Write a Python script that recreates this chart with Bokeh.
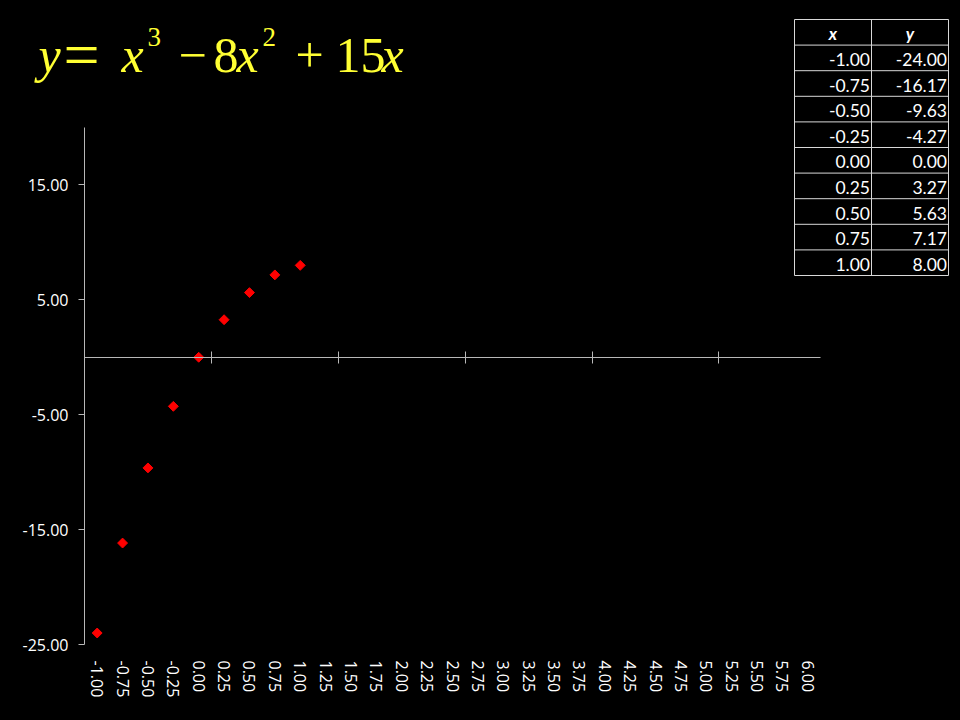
import numpy as np
from bokeh.plotting import figure
from bokeh.models import (Range1d, LinearAxis, FixedTicker, NumeralTickFormatter,
                          Label, ColumnDataSource, GlobalInlineStyleSheet)
from bokeh.core.properties import value
from bokeh.embed import file_html
from bokeh.resources import INLINE

# ---------------- data ----------------
categories = ["-1.00", "-0.75", "-0.50", "-0.25", "0.00", "0.25", "0.50", "0.75",
              "1.00", "1.25", "1.50", "1.75", "2.00", "2.25", "2.50", "2.75",
              "3.00", "3.25", "3.50", "3.75", "4.00", "4.25", "4.50", "4.75",
              "5.00", "5.25", "5.50", "5.75", "6.00"]
x_values = [-1.00, -0.75, -0.50, -0.25, 0.00, 0.25, 0.50, 0.75, 1.00]
y_values = [-24.00, -16.17, -9.63, -4.27, 0.00, 3.27, 5.63, 7.17, 8.00]
y_ticks = [-25, -15, -5, 5, 15]
y_min, y_max = -25, 20
tick_every = 5          # category-axis tick marks every 5 categories
table_header = ["x", "y"]

# ---------------- geometry (page pixel coords) ----------------
W, H = 952, 712
AX_L, AX_R, AX_T, AX_B = 84, 820, 127, 644   # chart axes extent
n_cat = len(categories)
cat_px = (AX_R - AX_L) / n_cat
y_px = (AX_B - AX_T) / (y_max - y_min)

BG = "#000000"
AX = "#b8b8b8"
TXT = "#ffffff"
YEL = "#ffff33"
FONT = "Lato"
AXFONT = "Open Sans"

p = figure(width=W, height=H,
           x_range=Range1d(-0.5 - AX_L / cat_px, -0.5 + (W - AX_L) / cat_px),
           y_range=Range1d(y_min - (H - AX_B) / y_px, y_min + AX_B / y_px),
           x_axis_type=None, y_axis_type=None,
           min_border_left=0, min_border_right=0,
           min_border_top=0, min_border_bottom=0,
           toolbar_location=None, output_backend="svg")
p.background_fill_color = BG
p.border_fill_color = BG
p.outline_line_color = None
p.grid.visible = False
p.stylesheets = [GlobalInlineStyleSheet(css="html, body { background: #000000; }")]

# pixel-space ranges for the title and table
p.extra_x_ranges = {"px": Range1d(0, W)}
p.extra_y_ranges = {"px": Range1d(H, 0)}

# ---------------- axes ----------------
yaxis = LinearAxis(ticker=FixedTicker(ticks=y_ticks),
                   formatter=NumeralTickFormatter(format="0.00"),
                   bounds=(y_min, y_max), fixed_location=-0.5)
yaxis.axis_line_color = AX
yaxis.major_tick_line_color = AX
yaxis.major_tick_in = 0
yaxis.major_tick_out = 6
yaxis.minor_tick_line_color = None
yaxis.major_label_standoff = 10
yaxis.major_label_text_color = TXT
yaxis.major_label_text_font = AXFONT
yaxis.major_label_text_font_size = "16px"
p.add_layout(yaxis, "left")

idx = list(range(n_cat))
xlab = LinearAxis(ticker=FixedTicker(ticks=idx), fixed_location=y_min,
                  major_label_overrides={i: c for i, c in zip(idx, categories)})
xlab.axis_line_color = None
xlab.major_tick_line_color = None
xlab.minor_tick_line_color = None
xlab.major_tick_in = 0
xlab.major_tick_out = 0
xlab.major_label_orientation = "vertical"
xlab.major_label_standoff = 16
xlab.major_label_text_color = TXT
xlab.major_label_text_font = AXFONT
xlab.major_label_text_font_size = "16px"
p.add_layout(xlab, "below")

bounds_ticks = [i - 0.5 for i in range(tick_every, n_cat, tick_every)]
xcross = LinearAxis(ticker=FixedTicker(ticks=bounds_ticks), fixed_location=0,
                    bounds=(-0.5, n_cat - 0.5))
xcross.axis_line_color = AX
xcross.major_tick_line_color = AX
xcross.minor_tick_line_color = None
xcross.major_tick_in = 6
xcross.major_tick_out = 6
xcross.major_label_text_font_size = "0px"
xcross.major_label_text_color = None
p.add_layout(xcross, "below")

# ---------------- points ----------------
pos = [categories.index(f"{v:.2f}") for v in x_values]
src = ColumnDataSource(dict(x=pos, y=y_values))
p.scatter("x", "y", source=src, marker="square", angle=np.pi / 4, size=7,
          fill_color="#ff0000", line_color="#ff0000")

# ---------------- title (formula) ----------------
# (text, left x, baseline y, font size, style)
pieces = [("y", 38, 72, 50, "italic"), ("=", 63, 76, 64, "normal"),
          ("x", 121, 72, 50, "italic"), ("3", 147, 46, 27, "normal"),
          ("\u2212", 178, 72, 50, "normal"), ("8", 213, 72, 50, "normal"),
          ("x", 236, 72, 50, "italic"), ("2", 262, 46, 27, "normal"),
          ("+", 295, 72, 50, "normal"), ("15", 335, 72, 50, "normal"),
          ("x", 381, 72, 50, "italic")]
for t, x, y, s, st in pieces:
    p.add_layout(Label(x=x, y=y - 0.35 * s, x_range_name="px", y_range_name="px",
                       text=t, text_font="Liberation Serif", text_font_style=st,
                       text_font_size=f"{s}px", text_color=YEL,
                       text_baseline="alphabetic", text_align="left"))

# ---------------- table ----------------
T_L, T_M, T_R, T_T = 794, 871, 948, 19
row_h = 25.6
n_rows = len(x_values) + 1
hy = [T_T + k * row_h for k in range(n_rows + 1)]
p.segment(x0=[T_L] * len(hy), x1=[T_R] * len(hy), y0=hy, y1=hy,
          x_range_name="px", y_range_name="px", line_color="#d9d9d9", line_width=1)
vx = [T_L, T_M, T_R]
p.segment(x0=vx, x1=vx, y0=[hy[0]] * 3, y1=[hy[-1]] * 3,
          x_range_name="px", y_range_name="px", line_color="#d9d9d9", line_width=1)

p.text(x=[(T_L + T_M) / 2, (T_M + T_R) / 2], y=[hy[0] + row_h / 2 + 1] * 2,
       text=table_header,
       x_range_name="px", y_range_name="px", text_align="center",
       text_baseline="middle", text_color=TXT, text_font=value(FONT),
       text_font_style="bold italic", text_font_size="17px")
rows_y = [hy[k + 1] + row_h / 2 + 1.5 for k in range(len(x_values))]
p.text(x=[T_M - 1.5] * len(x_values), y=rows_y, text=[f"{v:.2f}" for v in x_values],
       x_range_name="px", y_range_name="px", text_align="right",
       text_baseline="middle", text_color=TXT, text_font=value(FONT),
       text_font_size="17.5px")
p.text(x=[T_R - 1.5] * len(y_values), y=rows_y, text=[f"{v:.2f}" for v in y_values],
       x_range_name="px", y_range_name="px", text_align="right",
       text_baseline="middle", text_color=TXT, text_font=value(FONT),
       text_font_size="17.5px")

open("out.html", "w").write(file_html(p, INLINE))
